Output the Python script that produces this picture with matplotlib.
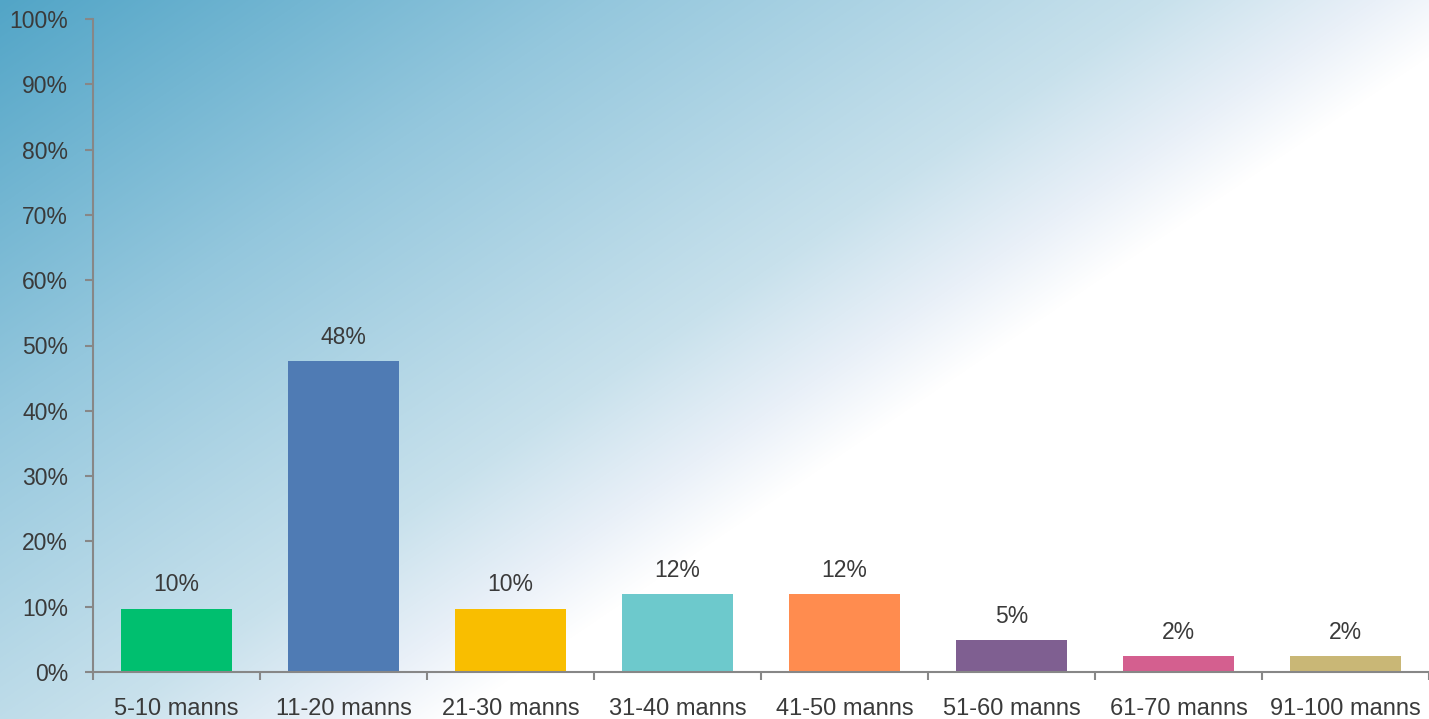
import numpy as np
import matplotlib
matplotlib.use("Agg")
import matplotlib.pyplot as plt
from matplotlib.ticker import FixedLocator, PercentFormatter

categories = ["5-10 manns", "11-20 manns", "21-30 manns", "31-40 manns",
              "41-50 manns", "51-60 manns", "61-70 manns", "91-100 manns"]
shares = [9.7, 47.6, 9.7, 11.9, 11.9, 4.9, 2.4, 2.4]
bar_colors = ["#00BF6F", "#4F7BB4", "#F9BE00", "#6DC9CC",
              "#FF8C4F", "#7F5F91", "#D45F8F", "#C9B776"]

text_color = "#3A3A3A"
axis_color = "#878787"
plt.rcParams["font.family"] = ["Liberation Sans", "DejaVu Sans"]

W, H = 1429, 719
fig = plt.figure(figsize=(W / 100, H / 100), dpi=100)

# diagonal background: blue top-left fading to white toward bottom-right
stops = [0.0, 0.4, 0.77, 0.91, 1.0]
stop_rgb = np.array([[82, 165, 199], [148, 199, 221], [200, 225, 236],
                     [233, 240, 248], [255, 255, 255]]) / 255.0
yy, xx = np.mgrid[0:H, 0:W]
t = np.clip((0.561 * xx + 0.828 * yy) / 848.0, 0, 1)
bg = np.dstack([np.interp(t, stops, stop_rgb[:, c]) for c in range(3)])
bg_ax = fig.add_axes([0, 0, 1, 1], zorder=0)
bg_ax.imshow(bg, aspect="auto", extent=(0, 1, 0, 1))
bg_ax.axis("off")

ax = fig.add_axes([93 / W, 1 - 672 / H, (W - 93) / W, (672 - 19) / H], zorder=1)
ax.patch.set_alpha(0)

x = np.arange(len(categories))
bars = ax.bar(x, shares, width=0.67, color=bar_colors, zorder=2)
for b, v in zip(bars, shares):
    ax.annotate(f"{v:.0f}%", (b.get_x() + b.get_width() / 2, v),
                xytext=(0, 9), textcoords="offset points",
                ha="center", va="bottom", fontsize=16.5, color=text_color)

ax.set_xlim(-0.5, len(categories) - 0.5)
ax.set_ylim(0, 100)
ax.set_yticks(np.arange(0, 101, 10))
ax.yaxis.set_major_formatter(PercentFormatter(decimals=0))
ax.set_xticks(x)
ax.set_xticklabels(categories)
ax.xaxis.set_minor_locator(FixedLocator(np.arange(-0.5, len(categories), 1.0)))

ax.tick_params(axis="x", which="major", length=0, pad=19, labelsize=17, labelcolor=text_color)
ax.tick_params(axis="x", which="minor", length=6, width=1.5, color=axis_color, direction="out")
ax.tick_params(axis="y", length=6, width=1.5, color=axis_color, pad=12,
               labelsize=16.5, labelcolor=text_color)

for side in ["top", "right"]:
    ax.spines[side].set_visible(False)
for side in ["left", "bottom"]:
    ax.spines[side].set_color(axis_color)
    ax.spines[side].set_linewidth(1.5)

fig.savefig("out.png", dpi=100)
